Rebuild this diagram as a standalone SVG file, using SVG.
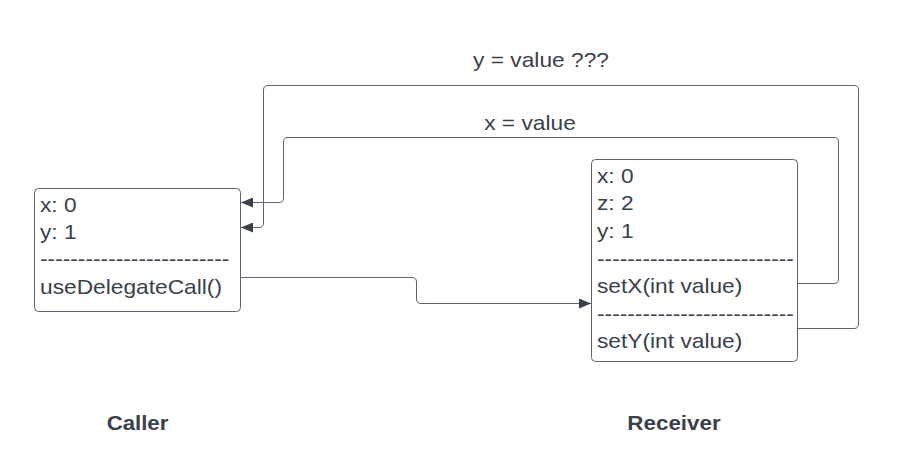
<svg xmlns="http://www.w3.org/2000/svg" width="918" height="457" viewBox="0 0 918 457">
<style>
.box{fill:#ffffff;stroke:#5e6570;stroke-width:1}
.t{font-family:"Liberation Sans",Arial,sans-serif;font-size:20.5px;fill:#3a414a}
.lbl{font-family:"Liberation Sans",Arial,sans-serif;font-size:20px;font-weight:bold;fill:#3a414a}
.c{fill:none;stroke:#5e6570;stroke-width:1}
</style>
<defs>
<marker id="arr" viewBox="0 0 12 10" refX="12" refY="5" markerWidth="12" markerHeight="10" markerUnits="userSpaceOnUse" orient="auto">
<path d="M0,0 L12,5 L0,10 Z" fill="#3a414a"/>
</marker>
</defs>
<rect width="918" height="457" fill="#ffffff"/>
<g id="caller">
<rect class="box" x="34.5" y="188.5" width="206" height="123" rx="4"/>
<text class="t" transform="matrix(1.11 0 0 1 40 212)">x: 0</text>
<text class="t" transform="matrix(1.11 0 0 1 40 239)">y: 1</text>
<text class="t" transform="matrix(1.11 0 0 1 40 266)">-------------------------</text>
<text class="t" transform="matrix(1.11 0 0 1 40 294)">useDelegateCall()</text>
</g>
<g id="receiver">
<rect class="box" x="591.5" y="159.5" width="206" height="202" rx="4"/>
<text class="t" transform="matrix(1.11 0 0 1 597 183)">x: 0</text>
<text class="t" transform="matrix(1.11 0 0 1 597 210)">z: 2</text>
<text class="t" transform="matrix(1.11 0 0 1 597 238)">y: 1</text>
<text class="t" transform="matrix(1.11 0 0 1 597 266)">--------------------------</text>
<text class="t" transform="matrix(1.11 0 0 1 597 293)">setX(int value)</text>
<text class="t" transform="matrix(1.11 0 0 1 597 321)">--------------------------</text>
<text class="t" transform="matrix(1.11 0 0 1 597 348)">setY(int value)</text>
</g>
<g id="connectors">
<path class="c" marker-end="url(#arr)" d="M241,277.5 H412 Q416.5,277.5 416.5,282 V299 Q416.5,303.5 421,303.5 H591"/>
<path class="c" marker-end="url(#arr)" d="M798,283.5 H834 Q838.5,283.5 838.5,279 V142 Q838.5,137.5 834,137.5 H288 Q283.5,137.5 283.5,142 V198 Q283.5,202.5 279,202.5 H241"/>
<path class="c" marker-end="url(#arr)" d="M798,328.5 H854 Q858.5,328.5 858.5,324 V90 Q858.5,85.5 854,85.5 H268 Q263.5,85.5 263.5,90 V223 Q263.5,227.5 259,227.5 H241"/>
</g>
<g id="labels">
<text class="t" text-anchor="middle" transform="matrix(1.11 0 0 1 541 67)">y = value ???</text>
<text class="t" text-anchor="middle" transform="matrix(1.11 0 0 1 530 130)">x = value</text>
<text class="lbl" text-anchor="middle" transform="matrix(1.11 0 0 1 137.5 430)">Caller</text>
<text class="lbl" text-anchor="middle" transform="matrix(1.12 0 0 1 674 430)">Receiver</text>
</g>
</svg>
